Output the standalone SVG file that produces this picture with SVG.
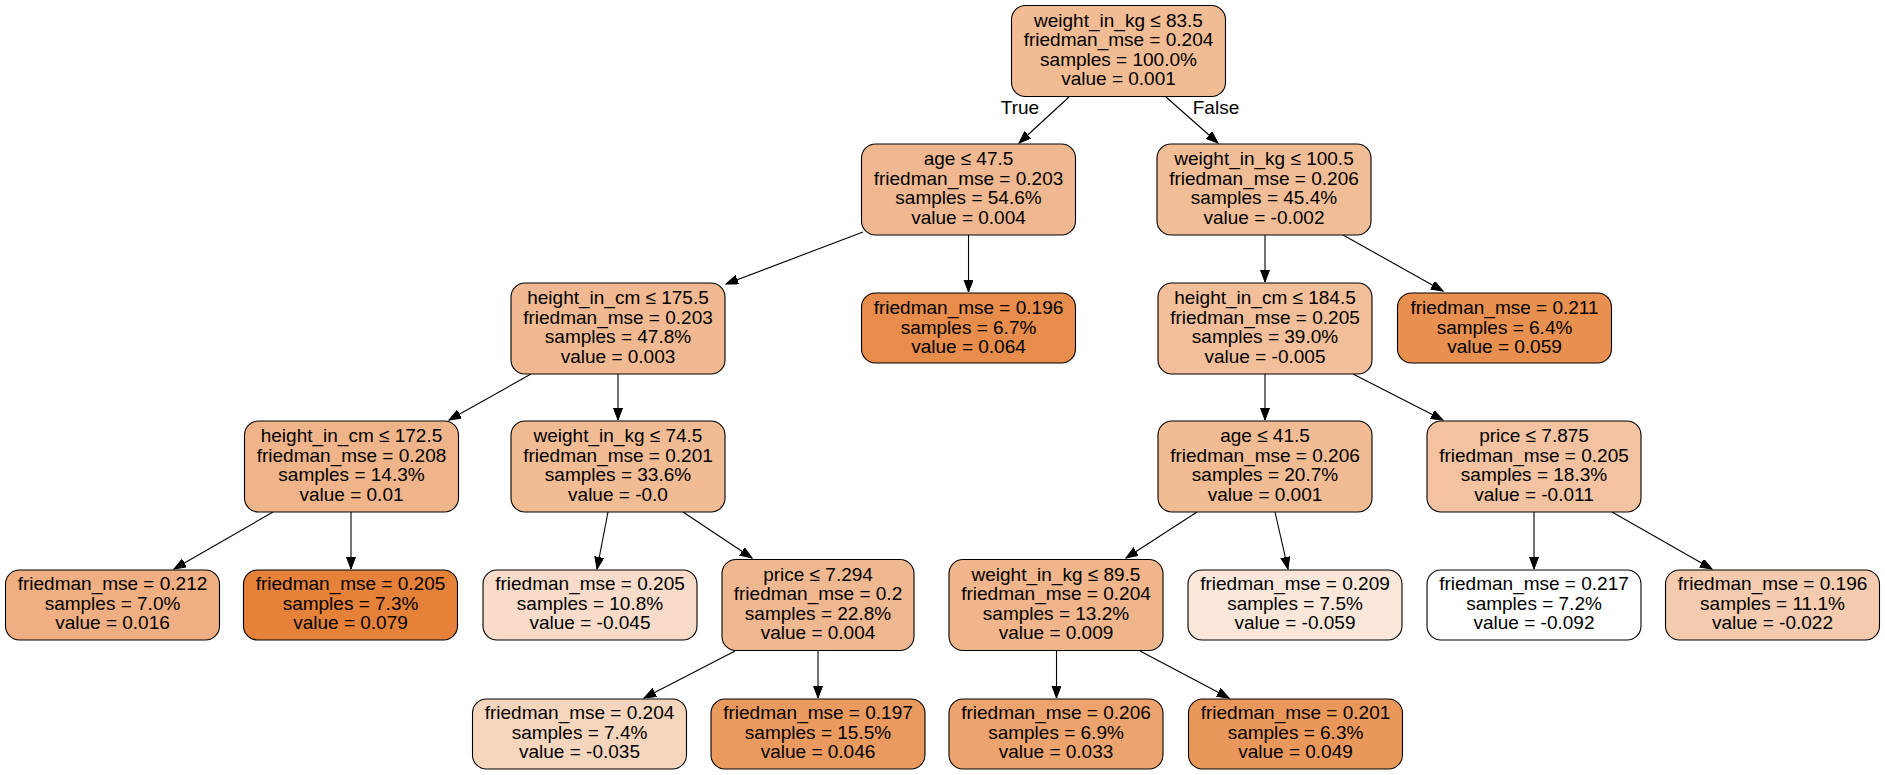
<svg xmlns="http://www.w3.org/2000/svg" width="1885" height="775" viewBox="0 0 1885 775">
  <style>
    .box { stroke: #000; stroke-width: 1.1; }
    .lbl { font-family: "Liberation Sans", Arial, Helvetica, sans-serif; font-size: 19px; fill: #000; text-anchor: middle; }
    .edge { stroke: #000; stroke-width: 1.1; fill: none; marker-end: url(#arrow); }
  </style>
  <defs>
    <marker id="arrow" markerUnits="userSpaceOnUse" markerWidth="13" markerHeight="10" refX="12" refY="4.5" orient="auto">
      <path d="M0,0 L12,4.5 L0,9 z" fill="#000" stroke="#000" stroke-width="1"/>
    </marker>
  </defs>
  <rect width="1885" height="775" fill="#fff"/>

  <!-- connectors -->
  <g id="edges">
    <line class="edge" x1="1069" y1="97" x2="1019" y2="143"/>
    <line class="edge" x1="1166" y1="97" x2="1218" y2="143"/>
    <line class="edge" x1="863" y1="232" x2="726" y2="284"/>
    <line class="edge" x1="968.5" y1="235" x2="968.5" y2="292"/>
    <line class="edge" x1="1265" y1="235" x2="1265" y2="282"/>
    <line class="edge" x1="1343" y1="235" x2="1443" y2="291"/>
    <line class="edge" x1="531" y1="374" x2="449" y2="420"/>
    <line class="edge" x1="618" y1="374" x2="618" y2="420"/>
    <line class="edge" x1="1265" y1="374" x2="1265" y2="420"/>
    <line class="edge" x1="1353" y1="374" x2="1443" y2="420"/>
    <line class="edge" x1="273" y1="512" x2="174" y2="569"/>
    <line class="edge" x1="351" y1="512" x2="351" y2="569"/>
    <line class="edge" x1="608" y1="512" x2="597" y2="569"/>
    <line class="edge" x1="683" y1="512" x2="752" y2="558"/>
    <line class="edge" x1="1197" y1="512" x2="1126" y2="558"/>
    <line class="edge" x1="1275" y1="512" x2="1288" y2="569"/>
    <line class="edge" x1="1534" y1="512" x2="1534" y2="569"/>
    <line class="edge" x1="1612" y1="512" x2="1712" y2="569"/>
    <line class="edge" x1="735" y1="651" x2="644" y2="698"/>
    <line class="edge" x1="818" y1="651" x2="818" y2="698"/>
    <line class="edge" x1="1056.5" y1="651" x2="1056.5" y2="698"/>
    <line class="edge" x1="1140" y1="651" x2="1229" y2="698"/>
    <text class="lbl" x="1020" y="114">True</text>
    <text class="lbl" x="1216" y="114">False</text>
  </g>

  <!-- rank 0 -->
  <g id="node0">
    <rect class="box" x="1011.5" y="5.5" width="214" height="91" rx="14" fill="#f1bb93"/>
    <text class="lbl" x="1118.5" y="26.5">weight_in_kg ≤ 83.5</text>
    <text class="lbl" x="1118.5" y="46">friedman_mse = 0.204</text>
    <text class="lbl" x="1118.5" y="65.7">samples = 100.0%</text>
    <text class="lbl" x="1118.5" y="85.3">value = 0.001</text>
  </g>

  <!-- rank 1 -->
  <g id="node1">
    <rect class="box" x="861.5" y="144" width="214" height="91" rx="14" fill="#f0b890"/>
    <text class="lbl" x="968.5" y="165">age ≤ 47.5</text>
    <text class="lbl" x="968.5" y="184.6">friedman_mse = 0.203</text>
    <text class="lbl" x="968.5" y="204.2">samples = 54.6%</text>
    <text class="lbl" x="968.5" y="223.8">value = 0.004</text>
  </g>
  <g id="node2">
    <rect class="box" x="1157" y="144" width="214" height="91" rx="14" fill="#f1bd97"/>
    <text class="lbl" x="1264" y="165">weight_in_kg ≤ 100.5</text>
    <text class="lbl" x="1264" y="184.6">friedman_mse = 0.206</text>
    <text class="lbl" x="1264" y="204.2">samples = 45.4%</text>
    <text class="lbl" x="1264" y="223.8">value = -0.002</text>
  </g>

  <!-- rank 2 -->
  <g id="node3">
    <rect class="box" x="511" y="283" width="214" height="91" rx="14" fill="#f1b991"/>
    <text class="lbl" x="618" y="304">height_in_cm ≤ 175.5</text>
    <text class="lbl" x="618" y="323.6">friedman_mse = 0.203</text>
    <text class="lbl" x="618" y="343.2">samples = 47.8%</text>
    <text class="lbl" x="618" y="362.8">value = 0.003</text>
  </g>
  <g id="node4">
    <rect class="box" x="861.5" y="293" width="214" height="70" rx="14" fill="#e78c4a"/>
    <text class="lbl" x="968.5" y="314">friedman_mse = 0.196</text>
    <text class="lbl" x="968.5" y="333.6">samples = 6.7%</text>
    <text class="lbl" x="968.5" y="353.2">value = 0.064</text>
  </g>
  <g id="node5">
    <rect class="box" x="1158" y="283" width="214" height="91" rx="14" fill="#f2bf9a"/>
    <text class="lbl" x="1265" y="304">height_in_cm ≤ 184.5</text>
    <text class="lbl" x="1265" y="323.6">friedman_mse = 0.205</text>
    <text class="lbl" x="1265" y="343.2">samples = 39.0%</text>
    <text class="lbl" x="1265" y="362.8">value = -0.005</text>
  </g>
  <g id="node6">
    <rect class="box" x="1397.5" y="293" width="214" height="70" rx="14" fill="#e89050"/>
    <text class="lbl" x="1504.5" y="314">friedman_mse = 0.211</text>
    <text class="lbl" x="1504.5" y="333.6">samples = 6.4%</text>
    <text class="lbl" x="1504.5" y="353.2">value = 0.059</text>
  </g>

  <!-- rank 3 -->
  <g id="node7">
    <rect class="box" x="244.5" y="421" width="214" height="91" rx="14" fill="#efb489"/>
    <text class="lbl" x="351.5" y="442">height_in_cm ≤ 172.5</text>
    <text class="lbl" x="351.5" y="461.6">friedman_mse = 0.208</text>
    <text class="lbl" x="351.5" y="481.2">samples = 14.3%</text>
    <text class="lbl" x="351.5" y="500.8">value = 0.01</text>
  </g>
  <g id="node8">
    <rect class="box" x="511" y="421" width="214" height="91" rx="14" fill="#f1bb94"/>
    <text class="lbl" x="618" y="442">weight_in_kg ≤ 74.5</text>
    <text class="lbl" x="618" y="461.6">friedman_mse = 0.201</text>
    <text class="lbl" x="618" y="481.2">samples = 33.6%</text>
    <text class="lbl" x="618" y="500.8">value = -0.0</text>
  </g>
  <g id="node9">
    <rect class="box" x="1158" y="421" width="214" height="91" rx="14" fill="#f1bb93"/>
    <text class="lbl" x="1265" y="442">age ≤ 41.5</text>
    <text class="lbl" x="1265" y="461.6">friedman_mse = 0.206</text>
    <text class="lbl" x="1265" y="481.2">samples = 20.7%</text>
    <text class="lbl" x="1265" y="500.8">value = 0.001</text>
  </g>
  <g id="node10">
    <rect class="box" x="1427" y="421" width="214" height="91" rx="14" fill="#f3c3a1"/>
    <text class="lbl" x="1534" y="442">price ≤ 7.875</text>
    <text class="lbl" x="1534" y="461.6">friedman_mse = 0.205</text>
    <text class="lbl" x="1534" y="481.2">samples = 18.3%</text>
    <text class="lbl" x="1534" y="500.8">value = -0.011</text>
  </g>

  <!-- rank 4 -->
  <g id="node11">
    <rect class="box" x="5.5" y="570" width="214" height="70" rx="14" fill="#efaf82"/>
    <text class="lbl" x="112.5" y="590">friedman_mse = 0.212</text>
    <text class="lbl" x="112.5" y="609.6">samples = 7.0%</text>
    <text class="lbl" x="112.5" y="629.2">value = 0.016</text>
  </g>
  <g id="node12">
    <rect class="box" x="243.5" y="570" width="214" height="70" rx="14" fill="#e58139"/>
    <text class="lbl" x="350.5" y="590">friedman_mse = 0.205</text>
    <text class="lbl" x="350.5" y="609.6">samples = 7.3%</text>
    <text class="lbl" x="350.5" y="629.2">value = 0.079</text>
  </g>
  <g id="node13">
    <rect class="box" x="483" y="570" width="214" height="70" rx="14" fill="#f8dcc9"/>
    <text class="lbl" x="590" y="590">friedman_mse = 0.205</text>
    <text class="lbl" x="590" y="609.6">samples = 10.8%</text>
    <text class="lbl" x="590" y="629.2">value = -0.045</text>
  </g>
  <g id="node14">
    <rect class="box" x="722" y="559.5" width="192" height="91" rx="14" fill="#f0b890"/>
    <text class="lbl" x="818" y="580.5">price ≤ 7.294</text>
    <text class="lbl" x="818" y="600.1">friedman_mse = 0.2</text>
    <text class="lbl" x="818" y="619.7">samples = 22.8%</text>
    <text class="lbl" x="818" y="639.3">value = 0.004</text>
  </g>
  <g id="node15">
    <rect class="box" x="949" y="559.5" width="214" height="91" rx="14" fill="#f0b58a"/>
    <text class="lbl" x="1056" y="580.5">weight_in_kg ≤ 89.5</text>
    <text class="lbl" x="1056" y="600.1">friedman_mse = 0.204</text>
    <text class="lbl" x="1056" y="619.7">samples = 13.2%</text>
    <text class="lbl" x="1056" y="639.3">value = 0.009</text>
  </g>
  <g id="node16">
    <rect class="box" x="1188" y="570" width="214" height="70" rx="14" fill="#fae7d9"/>
    <text class="lbl" x="1295" y="590">friedman_mse = 0.209</text>
    <text class="lbl" x="1295" y="609.6">samples = 7.5%</text>
    <text class="lbl" x="1295" y="629.2">value = -0.059</text>
  </g>
  <g id="node17">
    <rect class="box" x="1427" y="570" width="214" height="70" rx="14" fill="#ffffff"/>
    <text class="lbl" x="1534" y="590">friedman_mse = 0.217</text>
    <text class="lbl" x="1534" y="609.6">samples = 7.2%</text>
    <text class="lbl" x="1534" y="629.2">value = -0.092</text>
  </g>
  <g id="node18">
    <rect class="box" x="1665.5" y="570" width="214" height="70" rx="14" fill="#f4cbae"/>
    <text class="lbl" x="1772.5" y="590">friedman_mse = 0.196</text>
    <text class="lbl" x="1772.5" y="609.6">samples = 11.1%</text>
    <text class="lbl" x="1772.5" y="629.2">value = -0.022</text>
  </g>

  <!-- rank 5 -->
  <g id="node19">
    <rect class="box" x="472.5" y="699" width="214" height="70" rx="14" fill="#f6d5bd"/>
    <text class="lbl" x="579.5" y="719">friedman_mse = 0.204</text>
    <text class="lbl" x="579.5" y="738.6">samples = 7.4%</text>
    <text class="lbl" x="579.5" y="758.2">value = -0.035</text>
  </g>
  <g id="node20">
    <rect class="box" x="711" y="699" width="214" height="70" rx="14" fill="#ea995f"/>
    <text class="lbl" x="818" y="719">friedman_mse = 0.197</text>
    <text class="lbl" x="818" y="738.6">samples = 15.5%</text>
    <text class="lbl" x="818" y="758.2">value = 0.046</text>
  </g>
  <g id="node21">
    <rect class="box" x="949" y="699" width="214" height="70" rx="14" fill="#eca36e"/>
    <text class="lbl" x="1056" y="719">friedman_mse = 0.206</text>
    <text class="lbl" x="1056" y="738.6">samples = 6.9%</text>
    <text class="lbl" x="1056" y="758.2">value = 0.033</text>
  </g>
  <g id="node22">
    <rect class="box" x="1188.5" y="699" width="214" height="70" rx="14" fill="#ea975c"/>
    <text class="lbl" x="1295.5" y="719">friedman_mse = 0.201</text>
    <text class="lbl" x="1295.5" y="738.6">samples = 6.3%</text>
    <text class="lbl" x="1295.5" y="758.2">value = 0.049</text>
  </g>
</svg>
